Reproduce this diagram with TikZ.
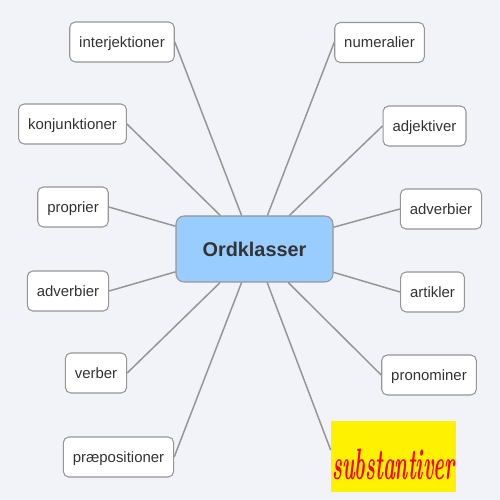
\documentclass[tikz,border=0pt]{standalone}
\usepackage{fontspec}
\usepackage{graphicx}
\newfontfamily\boxfont{Liberation Sans}
\definecolor{bgcol}{RGB}{242,243,248}
\definecolor{rootblue}{RGB}{153,204,255}
\definecolor{linegray}{RGB}{150,150,150}
\definecolor{txtgray}{RGB}{51,51,51}

\begin{document}
\begin{tikzpicture}[
  root/.style={rectangle, rounded corners=0.16cm, draw=linegray, fill=rootblue, line width=0.6pt,
    minimum width=3.14cm, minimum height=1.32cm, text=txtgray, font=\boxfont\fontsize{11.3}{13}\selectfont\bfseries},
  leaf/.style={rectangle, rounded corners=0.11cm, draw=linegray, fill=white, line width=0.6pt,
    minimum height=0.8cm, inner xsep=0.19cm, text height=0.22cm, text depth=0pt,
    text=txtgray, font=\boxfont\fontsize{8.5}{10}\selectfont},
  marked/.style={rectangle, fill=yellow, text=red, minimum width=2.5cm, minimum height=1.42cm,
    inner sep=0pt, text height=0.92cm, text depth=0pt},
  edge/.style={draw=linegray, line width=0.85pt}
]
  % Background and page size
  \fill[bgcol] (0,0) rectangle (10,10);
  \useasboundingbox (0,0) rectangle (10,10);

  % Root
  \node[root] (ord) at (5.09,5.02) {Ordklasser};

  % Left column
  \node[leaf] (interj) at (2.44,9.16) {interjektioner};
  \node[leaf] (konj) at (1.45,7.52) {konjunktioner};
  \node[leaf] (propr) at (1.46,5.86) {proprier};
  \node[leaf] (advl) at (1.36,4.18) {adverbier};
  \node[leaf] (verb) at (1.92,2.54) {verber};
  \node[leaf] (praep) at (2.37,0.86) {præpositioner};

  % Right column
  \node[leaf] (num) at (7.59,9.15) {numeralier};
  \node[leaf] (adj) at (8.49,7.48) {adjektiver};
  \node[leaf] (advr) at (8.82,5.82) {adverbier};
  \node[leaf] (art) at (8.65,4.16) {artikler};
  \node[leaf] (pron) at (8.58,2.50) {pronominer};
  \node[marked] (subst) at (7.87,0.86) {\scalebox{0.46}[1]{\fontsize{25}{25}\selectfont\bfseries\itshape substantiver}};

  % Edges from the root
  \draw[edge] (ord) -- (interj.east);
  \draw[edge] (ord) -- (konj.east);
  \draw[edge] (ord) -- (propr.east);
  \draw[edge] (ord) -- (advl.east);
  \draw[edge] (ord) -- (verb.east);
  \draw[edge] (ord) -- (praep.east);
  \draw[edge] (ord) -- (num.west);
  \draw[edge] (ord) -- (adj.west);
  \draw[edge] (ord) -- (advr.west);
  \draw[edge] (ord) -- (art.west);
  \draw[edge] (ord) -- (pron.west);
  \draw[edge] (ord) -- ([yshift=0.14cm]subst.west);
\end{tikzpicture}
\end{document}
